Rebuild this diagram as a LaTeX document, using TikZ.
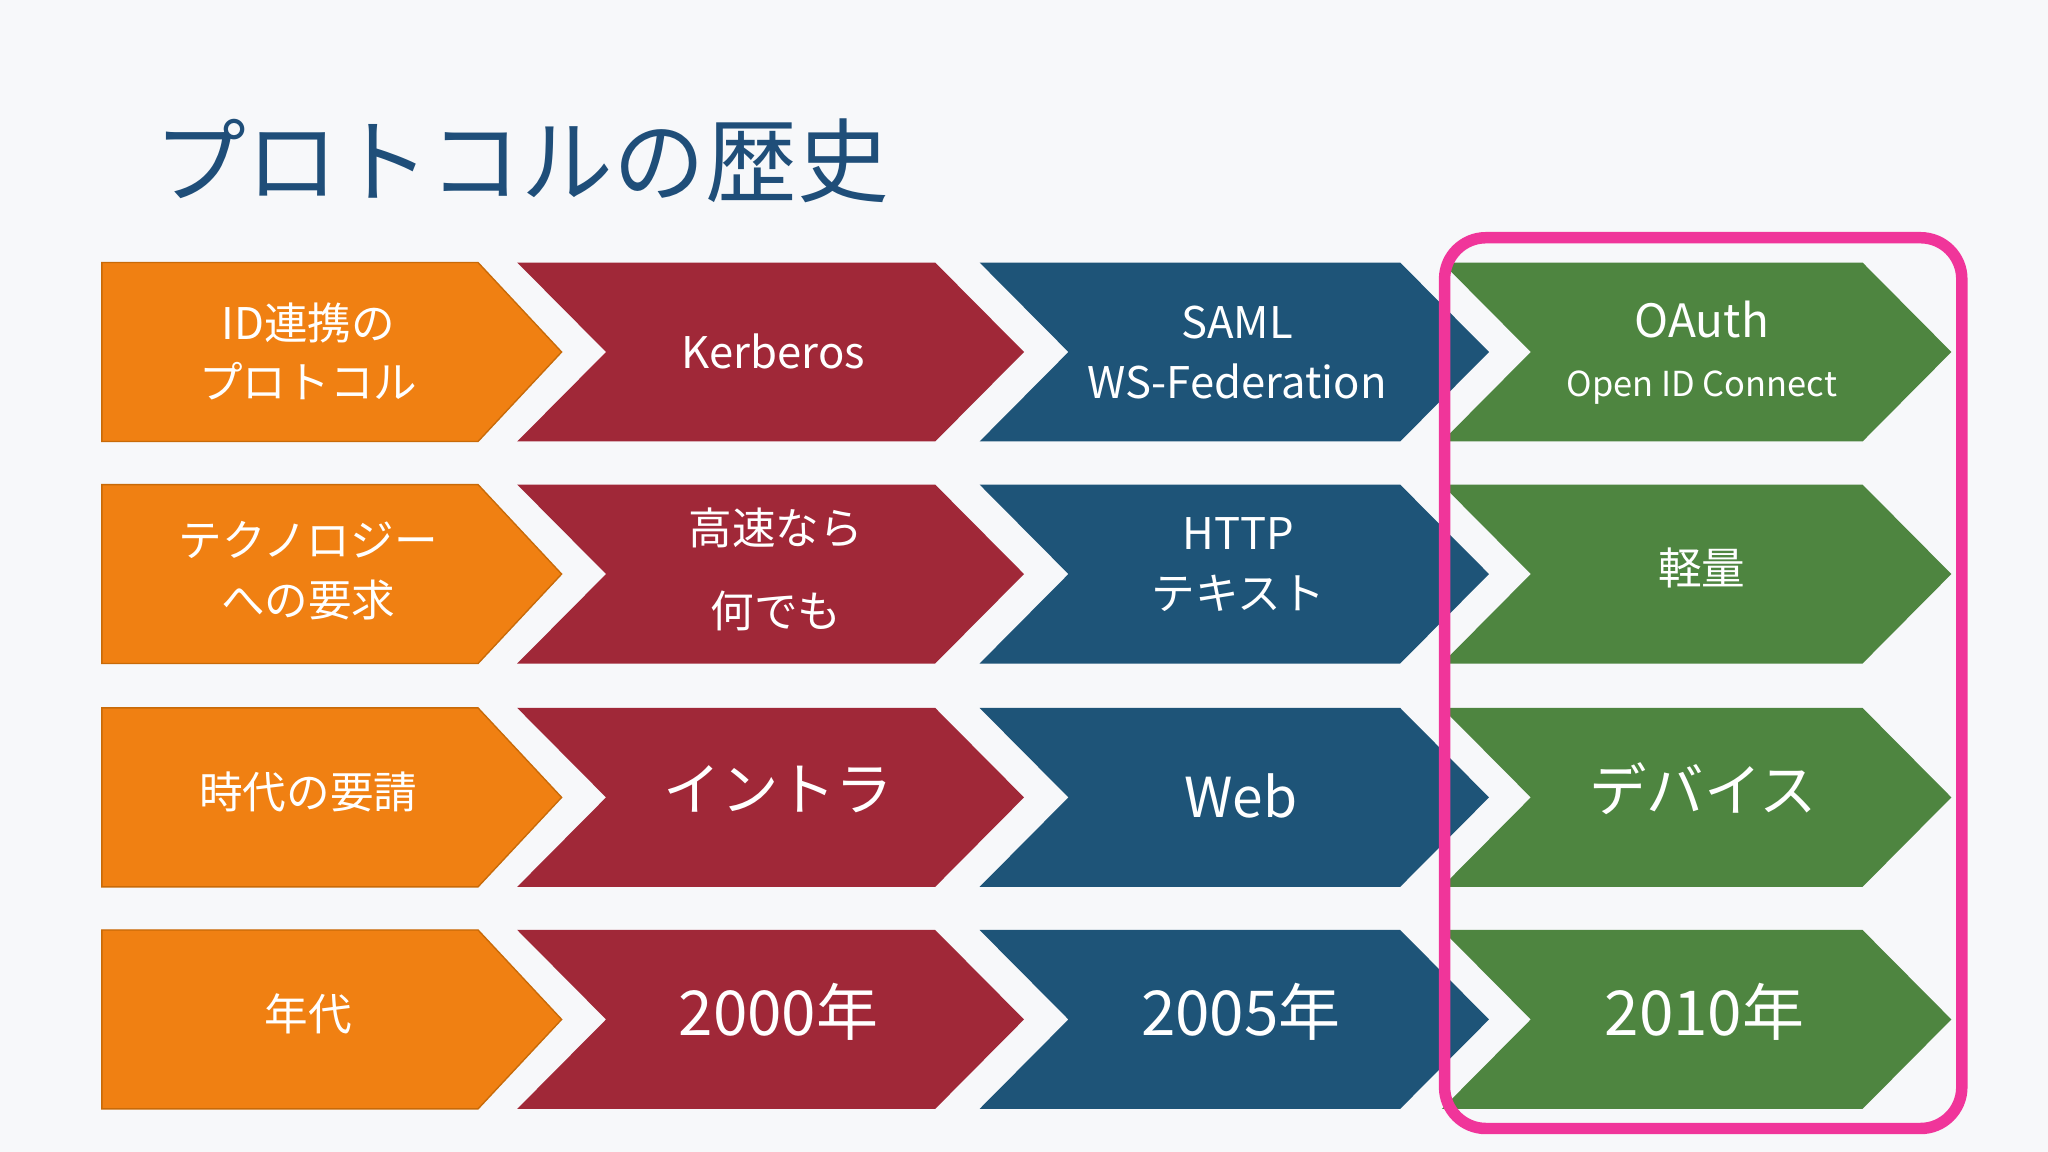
\documentclass[tikz,border=0pt]{standalone}
\usepackage{fontspec}
\setmainfont{Noto Sans CJK JP}
\newfontfamily\lightcjk{Noto Sans CJK JP Light}
\definecolor{bgc}{HTML}{F7F8FA}
\definecolor{orc}{HTML}{F08012}
\definecolor{orl}{HTML}{C86A08}
\definecolor{rdc}{HTML}{A02838}
\definecolor{blc}{HTML}{1E5478}
\definecolor{grc}{HTML}{4E8540}
\definecolor{pkc}{HTML}{F0359A}
\definecolor{ttc}{HTML}{1F4E79}
\begin{document}
\begin{tikzpicture}[x=0.02cm,y=-0.02cm,
  lbl/.style={text=white,align=center,font=\fontsize{19}{26}\selectfont},
  big/.style={text=white,font=\fontsize{27}{32}\selectfont}]
\fill[bgc] (0,0) rectangle (1568,882);
\useasboundingbox (0,0) rectangle (1568,882);
\node[anchor=west,text=ttc,font=\fontsize{40}{48}\selectfont,inner sep=0] (title) at (118,123) {プロトコルの歴史};
\foreach \t/\r in {201/1,371/2,542/3,712/4}{
  \pgfmathsetmacro{\m}{\t+68.5}\pgfmathsetmacro{\b}{\t+137}
  \filldraw[fill=orc,draw=orl,line width=0.6pt] (78,\t)--(366,\t)--(430,\m)--(366,\b)--(78,\b)--cycle;
  \fill[rdc] (396,\t)--(716,\t)--(784,\m)--(716,\b)--(396,\b)--(464,\m)--cycle;
  \fill[blc] (750,\t)--(1072,\t)--(1140,\m)--(1072,\b)--(750,\b)--(818,\m)--cycle;
  \fill[grc] (1104,\t)--(1426,\t)--(1494,\m)--(1426,\b)--(1104,\b)--(1172,\m)--cycle;
}
\draw[pkc,line width=5pt,rounded corners=18] (1106,182) rectangle (1502,864);
% row 1
\node[lbl] (o1) at (236,269) {ID連携の\\プロトコル};
\node[lbl] (r1) at (592,269) {Kerberos};
\node[lbl] (b1) at (947,270) {SAML\\WS-Federation};
\node[lbl] (g1) at (1303,270) {{\fontsize{20}{26}\selectfont OAuth}\\{\fontsize{15}{22}\selectfont Open ID Connect}};
% row 2
\node[lbl] (o2) at (236,437) {テクノロジー\\への要求};
\node[lbl,font=\fontsize{19}{36}\selectfont] (r2) at (594,436) {高速なら\\何でも};
\node[lbl] (b2) at (948,432) {HTTP\\テキスト};
\node[lbl] (g2) at (1303,435) {軽量};
% row 3
\node[lbl] (o3) at (236,606) {時代の要請};
\node[big,font=\fontsize{25}{30}\selectfont] (r3) at (596,604) {イントラ};
\node[big,font=\fontsize{24}{30}\selectfont] (b3) at (950,609) {Web};
\node[big,font=\fontsize{25}{30}\selectfont] (g3) at (1304,604) {デバイス};
% row 4
\node[lbl] (o4) at (236,776) {年代};
\node[big] (r4) at (596,775) {2000年};
\node[big] (b4) at (950,775) {2005年};
\node[big] (g4) at (1305,775) {2010年};
\end{tikzpicture}
\end{document}
